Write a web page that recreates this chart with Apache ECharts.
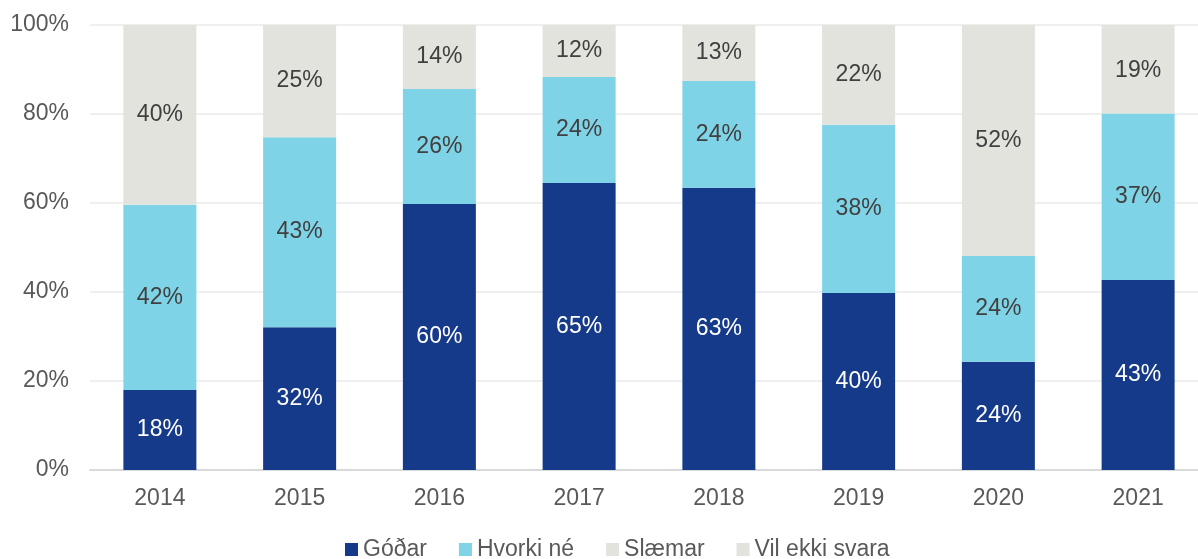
<!doctype html>
<html>
<head>
    <meta http-equiv="Content-Type" content="text/html; charset=utf-8" />
    <title>Góðar / Slæmar</title>
    <script src="https://cdn.jsdelivr.net/npm/echarts@6/dist/echarts.min.js"></script>
    <style>
        html, body { margin: 0; padding: 0; background: #fff; }
        #main { width: 1198px; height: 559px; }
    </style>
</head>
<body>
<div id="main"></div>
<script type="text/javascript">
    // gögn lesin af myndinni (%)
    var years = ['2014', '2015', '2016', '2017', '2018', '2019', '2020', '2021'];
    var godar = [18.0, 32.1, 59.8, 64.5, 63.4, 39.8, 24.3, 42.7];
    var hvorki = [41.6, 42.7, 25.8, 23.8, 24.0, 37.8, 23.8, 37.4];
    var slaemar = [40.4, 25.2, 14.4, 11.7, 12.6, 22.4, 51.9, 19.3];
    var vilEkki = [0, 0, 0, 0, 0, 0, 0, 0.6];
    var yTicks = [0, 20, 40, 60, 80, 100];

    var font = 'Liberation Sans, Arial, sans-serif';
    var myChart = echarts.init(document.getElementById('main'));

    function lbl(color) {
        return {
            show: true,
            position: 'inside',
            color: color,
            fontSize: 23,
            fontFamily: font,
            formatter: function (p) { return Math.round(p.value) + '%'; }
        };
    }

    var option = {
        animation: false,
        backgroundColor: '#fff',
        grid: { left: 90, top: 25, width: 1118, height: 445, outerBoundsMode: 'none' },
        legend: {
            bottom: -7,
            left: 340,
            itemWidth: 13,
            itemHeight: 13,
            itemGap: 32,
            icon: 'rect',
            textStyle: { color: '#595959', fontSize: 23, fontFamily: font },
            data: ['Góðar', 'Hvorki né', 'Slæmar', 'Vil ekki svara']
        },
        xAxis: {
            type: 'category',
            data: years,
            axisTick: { show: false },
            axisLine: { lineStyle: { color: '#d9d9d9', width: 2 } },
            axisLabel: { color: '#595959', fontSize: 23, fontFamily: font, margin: 17 }
        },
        yAxis: {
            type: 'value',
            min: yTicks[0],
            max: yTicks[yTicks.length - 1],
            interval: 20,
            axisLine: { show: false },
            axisTick: { show: false },
            splitLine: { lineStyle: { color: '#efefef', width: 2 } },
            axisLabel: { color: '#595959', fontSize: 23, fontFamily: font, margin: 21,
                formatter: '{value}%' }
        },
        series: [{
            name: 'Góðar',
            type: 'bar',
            stack: 'a',
            barWidth: 73,
            itemStyle: { color: '#163a8a' },
            label: lbl('#ffffff'),
            data: godar
        }, {
            name: 'Hvorki né',
            type: 'bar',
            stack: 'a',
            itemStyle: { color: '#7fd3e6' },
            label: lbl('#404040'),
            data: hvorki
        }, {
            name: 'Slæmar',
            type: 'bar',
            stack: 'a',
            itemStyle: { color: '#e1e3dc' },
            label: lbl('#404040'),
            data: slaemar
        }, {
            name: 'Vil ekki svara',
            type: 'bar',
            stack: 'a',
            itemStyle: { color: '#e1e3dc' },
            data: vilEkki
        }]
    };
    myChart.setOption(option);
</script>
</body>
</html>
